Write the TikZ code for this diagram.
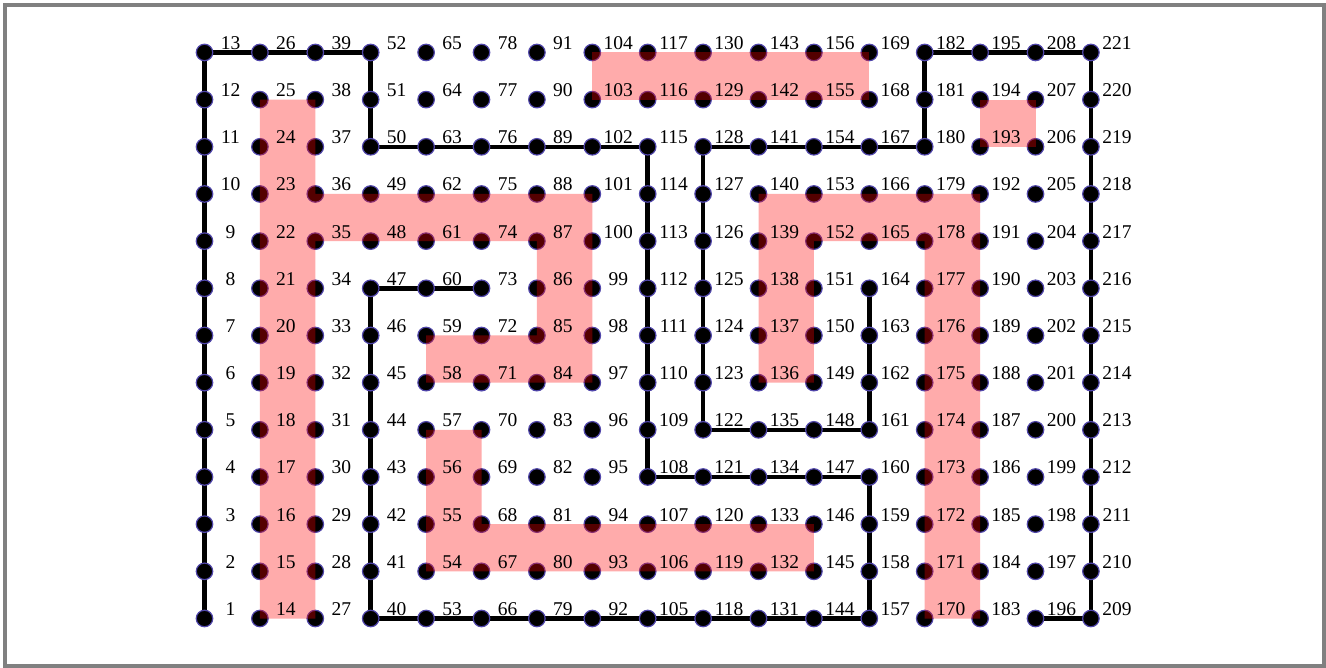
\documentclass[tikz,border=0pt]{standalone}
\usepackage{fontspec}
\setmainfont{Liberation Serif}
\definecolor{dotedge}{RGB}{80,70,170}
\definecolor{framegray}{RGB}{128,128,128}
\tikzset{
  dot/.style={circle,fill=black,draw=dotedge,line width=1.2pt,minimum size=16.5pt,inner sep=0pt},
  lbl/.style={anchor=base,inner sep=0pt,font=\fontsize{19.5}{22}\selectfont},
  wall/.style={line width=4.5pt,black},
  pathfill/.style={fill=red,fill opacity=0.33}
}
\begin{document}
\begin{tikzpicture}[x=1pt,y=-1pt]
\useasboundingbox (0,0) rectangle (1326,668);
\draw[framegray,line width=4pt] (5,5) rectangle (1323.5,666);
% dot positions
\foreach \c in {0,...,16}{
  \foreach \r in {0,...,12}{
    \pgfmathtruncatemacro{\k}{13*\c+\r+1}
    \coordinate (p\k) at ({204.5+55.4*\c},{618.5-47.17*\r});
  }
}
% walls
\draw[wall] (p1) -- (p13) -- (p52) -- (p50) -- (p115) -- (p108) -- (p160) -- (p157) -- (p40) -- (p47) -- (p73);
\draw[wall] (p164) -- (p161) -- (p122) -- (p128) -- (p180) -- (p182) -- (p221) -- (p209) -- (p196);
% dots
\foreach \k in {1,...,221}{
  \node[dot] (n\k) at (p\k) {};
}
% highlighted path
\fill[pathfill] (n14.center) rectangle (n38.center)
  (n22.center) rectangle (n101.center)
  (n84.center) rectangle (n101.center)
  (n58.center) rectangle (n98.center);
\fill[pathfill] (n54.center) rectangle (n70.center)
  (n54.center) rectangle (n146.center);
\fill[pathfill] (n103.center) rectangle (n169.center);
\fill[pathfill] (n193.center) rectangle (n207.center);
\fill[pathfill] (n170.center) rectangle (n192.center)
  (n139.center) rectangle (n192.center)
  (n136.center) rectangle (n153.center);
% labels
\foreach \k in {1,...,221}{
  \node[lbl] (l\k) at ([xshift=26pt,yshift=3pt]n\k.center) {\k};
}
\end{tikzpicture}
\end{document}
